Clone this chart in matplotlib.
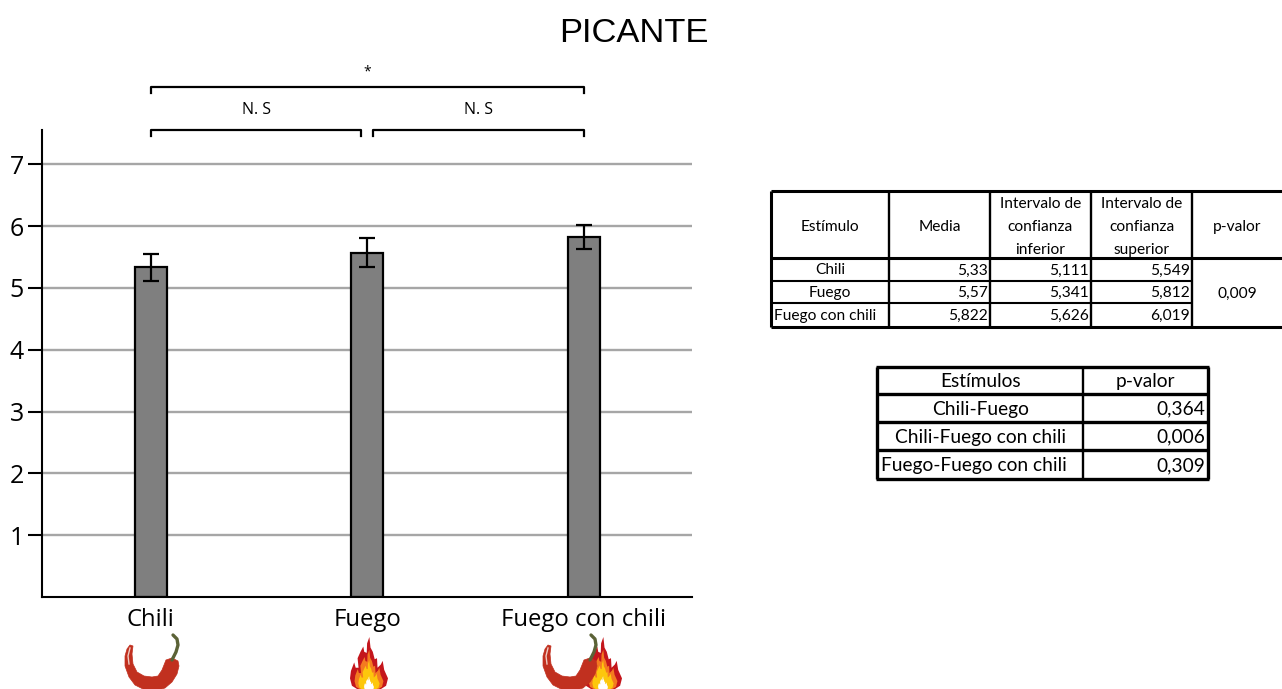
import matplotlib
matplotlib.use('Agg')
import matplotlib.pyplot as plt
from matplotlib.patches import Polygon

categories = ['Chili', 'Fuego', 'Fuego con chili']
media = [5.33, 5.57, 5.822]
ic_inf = [5.111, 5.341, 5.626]
ic_sup = [5.549, 5.812, 6.019]
y_ticks = [1, 2, 3, 4, 5, 6, 7]

header_1 = ['Estímulo', 'Media', 'Intervalo de\nconfianza\ninferior', 'Intervalo de\nconfianza\nsuperior', 'p-valor']
media_txt = ['5,33', '5,57', '5,822']
inf_txt = ['5,111', '5,341', '5,626']
sup_txt = ['5,549', '5,812', '6,019']
p_global = '0,009'

pares = ['Chili-Fuego', 'Chili-Fuego con chili', 'Fuego-Fuego con chili']
p_pares = ['0,364', '0,006', '0,309']

W, H = 1282, 689
fig = plt.figure(figsize=(W / 100, H / 100), dpi=100)

# main chart, placed in pixels
ax = fig.add_axes([42 / W, 1 - 597 / H, 650 / W, 467 / H])
x = list(range(len(categories)))
ax.set_axisbelow(True)
ax.yaxis.grid(True, color='#a6a6a6', lw=1.7)
err = [[m - i for m, i in zip(media, ic_inf)], [s - m for m, s in zip(media, ic_sup)]]
ax.bar(x, media, width=0.148, color='#7f7f7f', edgecolor='black', lw=1.6,
       yerr=err, error_kw=dict(ecolor='black', elinewidth=1.6, capsize=5.5, capthick=1.6))
ax.set_xlim(-0.503, 2.5)
ax.set_ylim(0, 467 / 61.83)
ax.set_yticks(y_ticks)
ax.set_xticks(x)
ax.set_xticklabels(categories, family='Open Sans', fontsize=17.2)
ax.tick_params(axis='y', length=10, width=1.5, labelsize=18, pad=3, labelfontfamily='Open Sans')
ax.tick_params(axis='x', length=0, pad=8)
ax.spines['top'].set_visible(False)
ax.spines['right'].set_visible(False)
ax.spines['left'].set_linewidth(1.5)
ax.spines['bottom'].set_linewidth(1.5)

# overlay in pixel coordinates for title, brackets, tables, icons
ov = fig.add_axes([0, 0, 1, 1])
ov.set_xlim(0, W)
ov.set_ylim(H, 0)
ov.axis('off')
ov.patch.set_alpha(0)

ov.text(634, 34, 'PICANTE', ha='center', va='center', family='Liberation Sans', fontsize=24.8)


def bracket(x0, x1, y):
    ov.plot([x0, x0, x1, x1], [y + 6, y, y, y + 6], color='black', lw=1.6,
            solid_joinstyle='round')


bracket(151, 584, 87)
bracket(151, 361, 130)
bracket(373, 584, 130)
ov.text(367, 72, '*', ha='center', va='center', family='Open Sans', fontsize=10)
ov.text(256, 110.5, 'N. S', ha='center', va='center', family='Open Sans', fontsize=11.5)
ov.text(478, 110.5, 'N. S', ha='center', va='center', family='Open Sans', fontsize=11.5)


def hline(x0, x1, y, lw=1.5):
    ov.plot([x0, x1], [y, y], color='black', lw=lw, solid_capstyle='butt')


def vline(x0, y0, y1, lw=1.5):
    ov.plot([x0, x0], [y0, y1], color='black', lw=lw, solid_capstyle='butt')


# first table
xs = [771, 889, 990, 1091, 1192, 1282]
ys = [191, 258, 281, 303, 327]
name_x = [830, 830, 825]
for yy, lw in zip(ys, [2.2, 2.2, 1.5, 1.5, 2.2]):
    hline(xs[0], xs[-2] if yy in ys[2:4] else xs[-1], yy, lw)
vline(xs[0], ys[0], ys[-1], 2.2)
for xx in xs[1:5]:
    vline(xx, ys[0], ys[-1], 1.7)
for i, t in enumerate(header_1):
    ov.text((xs[i] + xs[i + 1]) / 2, (ys[0] + ys[1]) / 2 + 2.5, t, ha='center', va='center',
            family='Lato', fontsize=11.2, linespacing=1.78)
for i in range(3):
    cy = (ys[i + 1] + ys[i + 2]) / 2 + 1
    ov.text(name_x[i], cy, categories[i], ha='center', va='center', family='Lato', fontsize=11.2)
    ov.text(xs[2] - 2, cy, media_txt[i], ha='right', va='center', family='Lato', fontsize=11.2)
    ov.text(xs[3] - 2, cy, inf_txt[i], ha='right', va='center', family='Lato', fontsize=11.2)
    ov.text(xs[4] - 2, cy, sup_txt[i], ha='right', va='center', family='Lato', fontsize=11.2)
ov.text((xs[4] + xs[5]) / 2, ys[2] + 13, p_global, ha='center', va='center', family='Lato', fontsize=11.2)

# second table
xs2 = [877, 1083, 1208]
ys2 = [367, 394, 422, 450, 479]
par_x = [981, 981, 974]
for yy in ys2:
    hline(xs2[0] - 1, xs2[-1] + 1, yy, 2.4)
vline(xs2[0], ys2[0], ys2[-1], 2.4)
vline(xs2[1], ys2[0], ys2[-1], 1.7)
vline(xs2[2], ys2[0], ys2[-1], 2.4)
cy = (ys2[0] + ys2[1]) / 2 + 1
ov.text(981, cy, 'Estímulos', ha='center', va='center', family='Lato', fontsize=13.8)
ov.text((xs2[1] + xs2[2]) / 2, cy, 'p-valor', ha='center', va='center', family='Lato', fontsize=13.8)
for i in range(3):
    cy = (ys2[i + 1] + ys2[i + 2]) / 2 + 1
    ov.text(par_x[i], cy, pares[i], ha='center', va='center', family='Lato', fontsize=13.8)
    ov.text(xs2[2] - 3, cy, p_pares[i], ha='right', va='center', family='Lato', fontsize=13.8)


# icons
chili_body = [(5, 11), (8, 12), (7, 20), (8, 30), (12, 38), (19, 42), (27, 43), (33, 42),
              (37, 36), (41, 26), (47, 24), (53, 27), (54, 32), (52, 40), (47, 48), (40, 54),
              (30, 57), (20, 56), (10, 51), (4, 43), (0, 32), (0, 22), (2, 15)]


def chili(ox, oy, z=5):
    verts = [(ox + a, oy + b) for a, b in chili_body]
    ov.add_patch(Polygon(verts, closed=True, fc='#c1301f', ec='#c1301f', lw=.5,
                         joinstyle='round', zorder=z))
    ov.plot([ox + 47, ox + 51, ox + 53, ox + 52, ox + 48], [oy + 26, oy + 18, oy + 11, oy + 5, oy + 1],
            color='#5b6236', lw=2.4, solid_capstyle='round', zorder=z)
    ov.plot([ox + 5, ox + 3, ox + 4], [oy + 14, oy + 22, oy + 30], color='#eecbc2', lw=1, zorder=z)


# normalized flame: x from -1 to 1 (half-width), y from 0 (bottom) to 1 (top)
flame_base = [(-.55, 0), (-.9, .08), (-1, .22), (-.95, .36), (-.78, .52), (-.7, .42),
              (-.55, .42), (-.6, .6), (-.45, .72), (-.3, .82), (-.25, .72), (-.12, .7),
              (-.1, .88), (.02, 1), (.08, .8), (.2, .72), (.3, .58), (.42, .6), (.45, .42),
              (.62, .48), (.72, .55), (.8, .38), (1, .22), (.9, .08), (.55, 0)]


def flame(cx, bottom, w=19, h=53, z=6):
    for s, col in zip([1, .76, .56, .26], ['#c4161c', '#f47b20', '#fdc70c', 'white']):
        pts = [(cx + a * w * s, bottom - b * h * s) for a, b in flame_base]
        ov.add_patch(Polygon(pts, closed=True, fc=col, ec='none', zorder=z))
        z += .1


flame(369, 690)
flame(603, 690)
chili(125, 634)
chili(543, 634, z=7)

fig.savefig('out.png', dpi=100)
